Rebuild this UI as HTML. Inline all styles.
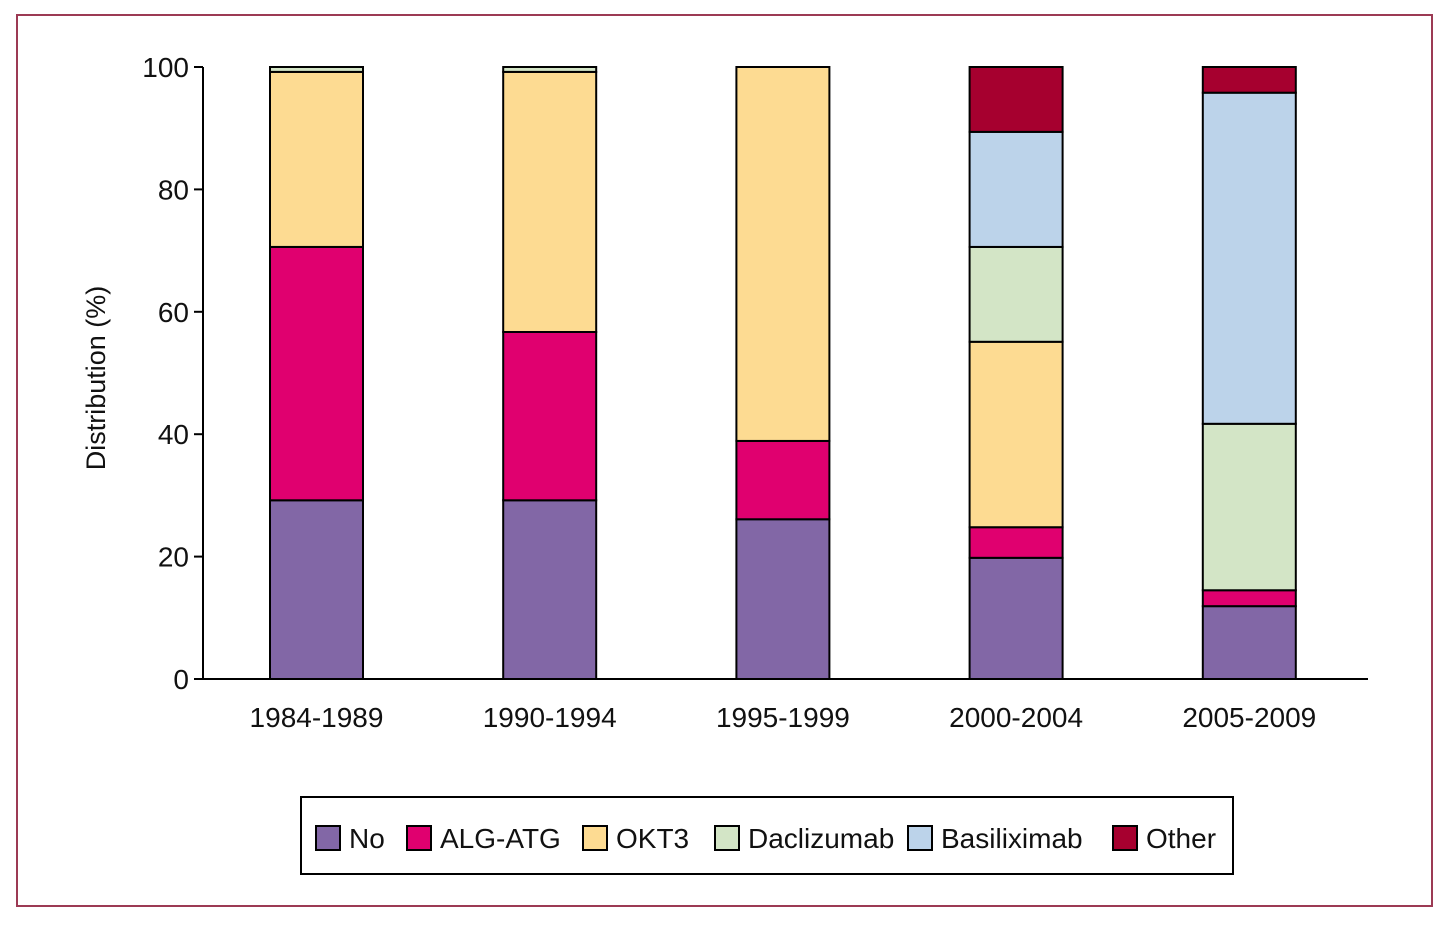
<!DOCTYPE html>
<html><head><meta charset="utf-8"><style>
body{margin:0;background:#fff;}
svg text{font-family:"Liberation Sans Narrow","Liberation Sans",sans-serif;fill:#111;}
</style></head><body>
<svg id="chart" width="1454" height="925" xmlns="http://www.w3.org/2000/svg">
<rect x="17" y="15" width="1415" height="891" fill="none" stroke="#9c3a54" stroke-width="2"/>
<g id="plot"></g>
</svg>
<script>
const categories=["1984-1989","1990-1994","1995-1999","2000-2004","2005-2009"];
const seriesNames=["No","ALG-ATG","OKT3","Daclizumab","Basiliximab","Other"];
const noVals=[29.2,29.2,26.1,19.8,11.9];
const algVals=[41.4,27.5,12.8,5.0,2.6];
const okt3Vals=[28.6,42.5,61.1,30.3,0];
const daclVals=[0.8,0.8,0,15.5,27.2];
const basilVals=[0,0,0,18.8,54.1];
const otherVals=[0,0,0,10.6,4.2];
const yTicks=[0,20,40,60,80,100];
const colors=["#8267a6","#e0006f","#fddb92","#d3e5c6","#bcd3ea","#a6002f"];
const series=[noVals,algVals,okt3Vals,daclVals,basilVals,otherVals];
const NS="http://www.w3.org/2000/svg";
const g=document.getElementById('plot');
const x0=203,x1=1368,yB=679,yT=67;
const y=v=>yB-(v/100)*(yB-yT);
const step=233.2,first=316.5,bw=93;
const xc=i=>first+i*step;
function mk(t,a){const e=document.createElementNS(NS,t);for(const k in a)e.setAttribute(k,a[k]);g.appendChild(e);return e;}
categories.forEach((c,i)=>{
 let acc=0;
 series.forEach((s,j)=>{
  const v=s[i]; if(v<=0) return;
  const r=mk('rect',{x:xc(i)-bw/2,y:y(acc+v),width:bw,height:y(acc)-y(acc+v),fill:colors[j],stroke:'#000','stroke-width':2});
  
  
  acc+=v;
 });
 const t=mk('text',{x:xc(i),y:727,'text-anchor':'middle','font-size':28});
 t.textContent=c;
 
 
});
const ax=mk('path',{d:`M${x0},${yT} V${yB} H${x1}`,fill:'none',stroke:'#000','stroke-width':2});


yTicks.forEach(v=>{
 const l=mk('line',{x1:x0-9,x2:x0,y1:y(v),y2:y(v),stroke:'#000','stroke-width':2});
 
 
 const t=mk('text',{x:x0-14,y:y(v)+10,'text-anchor':'end','font-size':28});
 t.textContent=v;
 
 
});
const yt=mk('text',{x:0,y:0,'text-anchor':'middle','font-size':27,transform:'translate(105,378) rotate(-90)'});
yt.textContent='Distribution (%)';


const lb=mk('rect',{x:301,y:797,width:932,height:77,fill:'#fff',stroke:'#000','stroke-width':2});


const lx=[316,407,583,715,908,1113];
seriesNames.forEach((n,j)=>{
 const s=mk('rect',{x:lx[j],y:826,width:24,height:24,fill:colors[j],stroke:'#000','stroke-width':2});
 
 
 const t=mk('text',{x:lx[j]+33,y:848,'font-size':28});
 t.textContent=n;
 
 
});
</script>
</body></html>
